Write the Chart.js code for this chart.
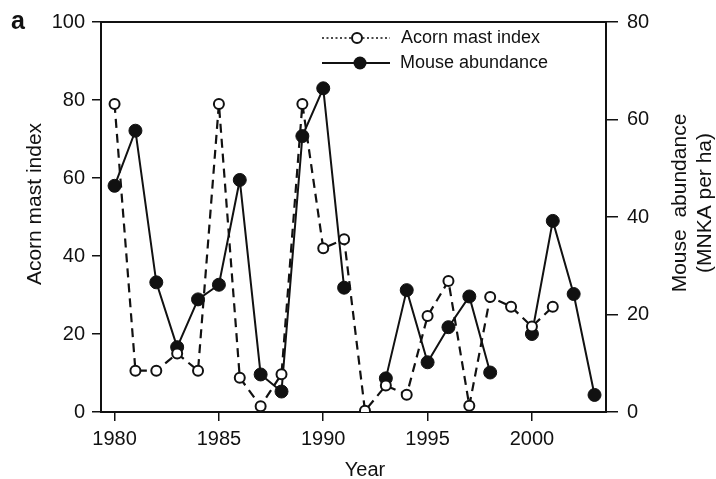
<!DOCTYPE html>
<html>
<head>
<meta charset="utf-8">
<script src="https://cdn.jsdelivr.net/npm/chart.js@4.4.1/dist/chart.umd.min.js"></script>
<style>
  html, body { margin: 0; padding: 0; background: #fff; }
</style>
</head>
<body>
<canvas id="myChart" width="716" height="479"></canvas>
<script>
// data
const years = [1980, 1981, 1982, 1983, 1984, 1985, 1986, 1987, 1988, 1989, 1990, 1991,
               1992, 1993, 1994, 1995, 1996, 1997, 1998, 1999, 2000, 2001, 2002, 2003];
const acornMast = [79, 10.6, 10.6, 15, 10.6, 79, 8.8, 1.5, 9.7, 79, 42, 44.3,
                   0.3, 6.8, 4.4, 24.6, 33.6, 1.6, 29.5, 27, 21.9, 27, null, null];
const mouseAbund = [46.4, 57.7, 26.6, 13.3, 23.1, 26.1, 47.6, 7.7, 4.2, 56.6, 66.4, 25.5,
                    null, 6.9, 25.0, 10.2, 17.4, 23.7, 8.1, null, 16.0, 39.2, 24.2, 3.5];
const yearTicks = [1980, 1985, 1990, 1995, 2000];

const ink = '#111';
const fontFam = "'Liberation Sans', Arial, Helvetica, sans-serif";

const toPts = vals => years.map((yr, i) => ({ x: yr, y: vals[i] }));

// box round the plot
const framePlugin = {
  id: 'frame',
  beforeDatasetsDraw(chart) {
    const { ctx, chartArea: a } = chart;
    ctx.save();
    ctx.strokeStyle = ink;
    ctx.lineWidth = 2;
    ctx.strokeRect(a.left, a.top, a.right - a.left, a.bottom - a.top);
    ctx.restore();
  }
};

// titles, panel letter and legend
const textPlugin = {
  id: 'texts',
  afterDraw(chart) {
    const { ctx } = chart;
    ctx.save();
    ctx.fillStyle = ink;
    ctx.strokeStyle = ink;

    ctx.font = 'bold 25px ' + fontFam;
    ctx.textBaseline = 'alphabetic';
    ctx.fillText('a', 11, 29);

    ctx.font = '20px ' + fontFam;
    ctx.textAlign = 'center';
    ctx.fillText('Year', 365, 476);

    // vertical titles, both reading bottom to top
    ctx.font = '21px ' + fontFam;
    ctx.textBaseline = 'middle';
    ctx.save();
    ctx.translate(35, 204);
    ctx.rotate(-Math.PI / 2);
    ctx.fillText('Acorn mast index', 0, 0);
    ctx.restore();
    ctx.save();
    ctx.translate(680, 203);
    ctx.rotate(-Math.PI / 2);
    ctx.fillText('Mouse  abundance', 0, 0);
    ctx.restore();
    ctx.save();
    ctx.translate(705, 203);
    ctx.rotate(-Math.PI / 2);
    ctx.fillText('(MNKA per ha)', 0, 0);
    ctx.restore();

    // legend
    ctx.lineWidth = 1.6;
    ctx.setLineDash([2, 2.5]);
    ctx.beginPath(); ctx.moveTo(322, 38); ctx.lineTo(390, 38); ctx.stroke();
    ctx.setLineDash([]);
    ctx.lineWidth = 2;
    ctx.beginPath(); ctx.arc(357, 38, 5, 0, Math.PI * 2);
    ctx.fillStyle = '#fff'; ctx.fill(); ctx.stroke();
    ctx.fillStyle = ink;
    ctx.beginPath(); ctx.moveTo(322, 63); ctx.lineTo(390, 63); ctx.stroke();
    ctx.beginPath(); ctx.arc(360, 63, 6.5, 0, Math.PI * 2); ctx.fill();

    ctx.font = '18px ' + fontFam;
    ctx.textAlign = 'left';
    ctx.fillText('Acorn mast index', 401, 38);
    ctx.fillText('Mouse abundance', 400, 63);
    ctx.restore();
  }
};

const ctx = document.getElementById('myChart');
new Chart(ctx, {
  type: 'line',
  data: {
    datasets: [{
      label: 'Acorn mast index',
      data: toPts(acornMast),
      yAxisID: 'y',
      borderColor: ink,
      borderWidth: 2.2,
      borderDash: [9, 6],
      pointRadius: 5,
      pointBorderWidth: 2,
      pointBorderColor: ink,
      pointBackgroundColor: '#fff',
      tension: 0
    }, {
      label: 'Mouse abundance',
      data: toPts(mouseAbund),
      yAxisID: 'y1',
      borderColor: ink,
      borderWidth: 2,
      pointRadius: 6.5,
      pointBorderWidth: 1,
      pointBorderColor: ink,
      pointBackgroundColor: ink,
      tension: 0
    }]
  },
  options: {
    responsive: false,
    animation: false,
    spanGaps: false,
    layout: { padding: { top: 22, left: 0, right: 0, bottom: 0 } },
    plugins: {
      legend: { display: false },
      tooltip: { enabled: false }
    },
    scales: {
      x: {
        type: 'linear',
        min: 1979.35,
        max: 2003.55,
        afterBuildTicks: s => { s.ticks = yearTicks.map(v => ({ value: v })); },
        afterFit: s => { s.height = 67; },
        border: { display: false },
        grid: { drawOnChartArea: false, tickLength: 9, color: ink, lineWidth: 1.5 },
        ticks: {
          color: ink, padding: 6, maxRotation: 0, autoSkip: false,
          font: { family: fontFam, size: 20 },
          callback: v => String(v)
        }
      },
      y: {
        position: 'left',
        min: 0, max: 100,
        afterFit: s => { s.width = 101; },
        border: { display: false },
        grid: { drawOnChartArea: false, tickLength: 9, color: ink, lineWidth: 1.5 },
        ticks: { stepSize: 20, color: ink, padding: 7, font: { family: fontFam, size: 20 } }
      },
      y1: {
        position: 'right',
        min: 0, max: 80,
        afterFit: s => { s.width = 110; },
        border: { display: false },
        grid: { drawOnChartArea: false, tickLength: 12, color: ink, lineWidth: 1.5 },
        ticks: { stepSize: 20, color: ink, padding: 9, font: { family: fontFam, size: 20 } }
      }
    }
  },
  plugins: [framePlugin, textPlugin]
});
</script>
</body>
</html>
